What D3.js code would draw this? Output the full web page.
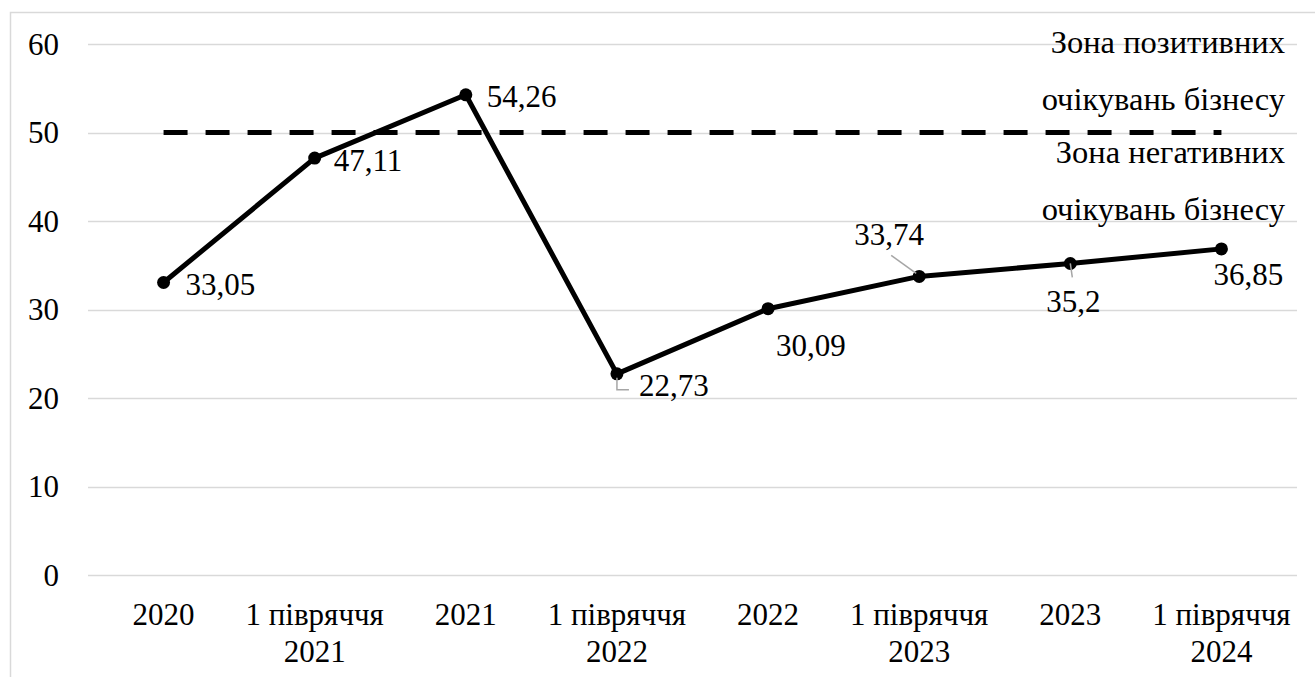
<!DOCTYPE html>
<html>
<head>
<meta charset="utf-8">
<script src="https://cdn.jsdelivr.net/npm/d3@7"></script>
</head>
<body style="margin:0">
<script>
// categories (multi-line labels) and values
let categories = [
  ["2020"], ["1 півряччя", "2021"], ["2021"], ["1 півряччя", "2022"],
  ["2022"], ["1 півряччя", "2023"], ["2023"], ["1 півряччя", "2024"]
];
let values = [33.05, 47.11, 54.26, 22.73, 30.09, 33.74, 35.2, 36.85];
let valueLabels = ["33,05", "47,11", "54,26", "22,73", "30,09", "33,74", "35,2", "36,85"];
let yTicks = [0, 10, 20, 30, 40, 50, 60];
let threshold = 50;
let zoneLabels = [["Зона позитивних", "очікувань бізнесу"], ["Зона негативних", "очікувань бізнесу"]];

// label offsets (to baseline) from each point, plus optional leader line
let labelPos = [
  {dx: 22, dy: 12.5},
  {dx: 19, dy: 12.5},
  {dx: 21, dy: 12.5},
  {dx: 22, dy: 22, leader: [[0, 4], [0, 16], [12, 16]]},
  {dx: 8, dy: 47},
  {dx: -65, dy: -31, leader: [[-3, -3], [-28, -21]]},
  {dx: -24, dy: 49, leader: [[0, 0], [2, 14]]},
  {dx: -8, dy: 36}
];

let width = 1315, height = 677;
let margin = {left: 88, right: 18, top: 44, bottom: 102};
let fontSize = 31;

let svg = d3.select("body").append("svg")
  .attr("width", width)
  .attr("height", height);

// helper so every text gets the same serif font
function addText(parent, x, y, str, size, anchor) {
  return parent.append("text")
    .attr("x", x)
    .attr("y", y)
    .attr("font-size", size)
    .attr("text-anchor", anchor)
    .style("font-family", "Liberation Serif")
    .text(str);
}

// outer frame
svg.append("rect")
  .attr("x", 10.5).attr("y", 12.5)
  .attr("width", width).attr("height", height)
  .attr("fill", "none")
  .attr("stroke", "#d9d9d9")
  .attr("stroke-width", 1.5);

let xScale = d3.scaleBand()
  .domain(d3.range(categories.length))
  .range([margin.left, width - margin.right]);

let yScale = d3.scaleLinear()
  .domain([0, 60])
  .range([height - margin.bottom, margin.top]);

let cx = i => xScale(i) + xScale.bandwidth() / 2;

// gridlines
svg.append("g")
  .selectAll("line")
  .data(yTicks)
  .enter()
  .append("line")
  .attr("x1", margin.left)
  .attr("x2", width - margin.right)
  .attr("y1", d => Math.round(yScale(d)) + 0.5)
  .attr("y2", d => Math.round(yScale(d)) + 0.5)
  .attr("stroke", "#d9d9d9")
  .attr("stroke-width", 1.5);

// y tick labels
let yAxisG = svg.append("g");
yTicks.forEach(t => {
  addText(yAxisG, 59, yScale(t) + 10.5, t, fontSize, "end");
});

// x category labels
let xAxisG = svg.append("g");
categories.forEach((lines, i) => {
  lines.forEach((s, j) => {
    addText(xAxisG, cx(i), height - margin.bottom + 50 + j * 37, s, fontSize, "middle");
  });
});

// threshold dashed line
svg.append("line")
  .attr("x1", cx(0))
  .attr("x2", cx(categories.length - 1))
  .attr("y1", yScale(threshold))
  .attr("y2", yScale(threshold))
  .attr("stroke", "#000")
  .attr("stroke-width", 5)
  .attr("stroke-dasharray", "24,18");

// zone annotations (baselines)
let zoneY = [[53, 110], [163, 220]];
zoneLabels.forEach((lines, k) => {
  lines.forEach((t, j) => {
    addText(svg, 1285, zoneY[k][j], t, 32.5, "end");
  });
});

// main line
let line = d3.line()
  .x((d, i) => cx(i))
  .y(d => yScale(d));

svg.append("path")
  .datum(values)
  .attr("d", line)
  .attr("fill", "none")
  .attr("stroke", "#000")
  .attr("stroke-width", 5)
  .attr("stroke-linejoin", "round");

// markers
svg.append("g")
  .selectAll("circle")
  .data(values)
  .enter()
  .append("circle")
  .attr("cx", (d, i) => cx(i))
  .attr("cy", d => yScale(d))
  .attr("r", 6.5)
  .attr("fill", "#000");

// leader lines
values.forEach((v, i) => {
  let p = labelPos[i];
  if (p.leader) {
    svg.append("polyline")
      .attr("points", p.leader.map(q => (cx(i) + q[0]) + "," + (yScale(v) + q[1])).join(" "))
      .attr("fill", "none")
      .attr("stroke", "#a6a6a6")
      .attr("stroke-width", 1.5);
  }
});

// value labels
let labelG = svg.append("g");
values.forEach((v, i) => {
  addText(labelG, cx(i) + labelPos[i].dx, yScale(v) + labelPos[i].dy, valueLabels[i], fontSize, "start");
});
</script>
</body>
</html>
